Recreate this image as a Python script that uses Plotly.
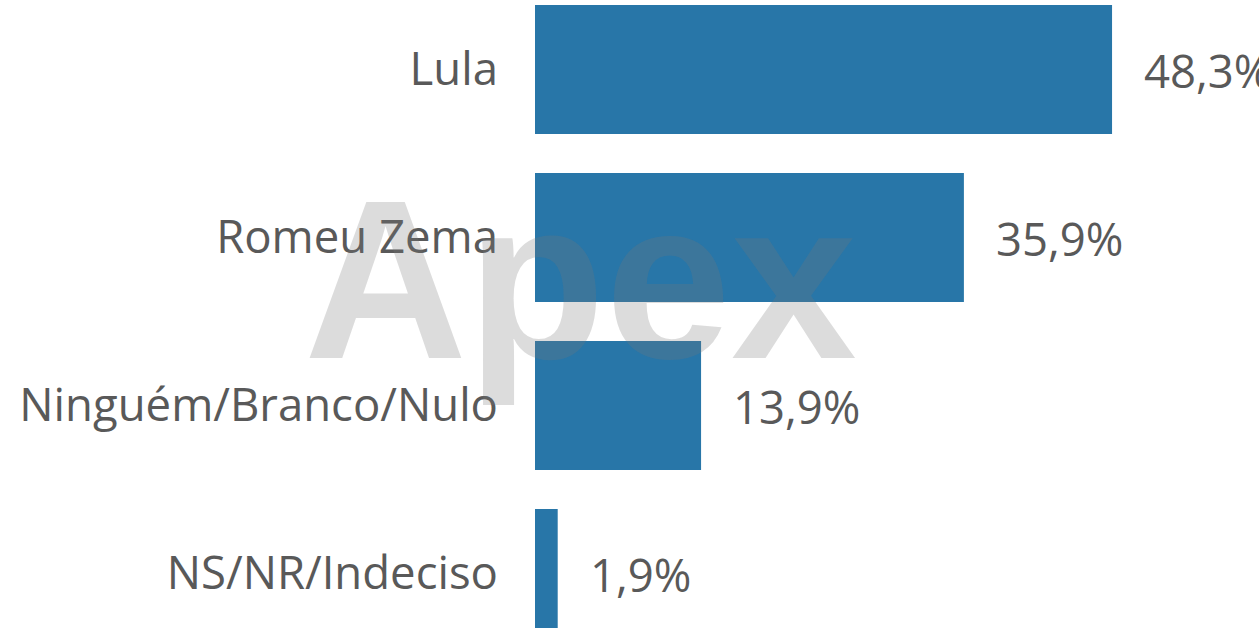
import plotly.graph_objects as go

categories = ["Lula", "Romeu Zema", "Ninguém/Branco/Nulo", "NS/NR/Indeciso"]
values = [48.3, 35.9, 13.9, 1.9]
value_labels = ["48,3%", "35,9%", "13,9%", "1,9%"]

BAR_COLOR = "#2876A8"
TEXT_COLOR = "#595959"
FONT = "Open Sans"

fig = go.Figure()
fig.add_trace(go.Bar(
    x=values,
    y=categories,
    orientation="h",
    marker=dict(color=BAR_COLOR, line=dict(width=0)),
    width=0.768,
    hoverinfo="skip",
))

annotations = []
for cat, v, lab in zip(categories, values, value_labels):
    annotations.append(dict(
        x=v, y=cat, xref="x", yref="y", text=lab, showarrow=False,
        xanchor="left", yanchor="middle", xshift=30,
        font=dict(family=FONT, size=45.5, color=TEXT_COLOR),
    ))

annotations.append(dict(
    x=0.0622, y=0.5557, xref="paper", yref="paper", text="<b>Apex</b>",
    showarrow=False, xanchor="center", yanchor="middle",
    font=dict(family="Liberation Sans", size=226, color="rgba(120,120,120,0.26)"),
))

fig.update_layout(
    width=1259, height=628,
    margin=dict(l=535, r=0, t=0, b=0, pad=0),
    paper_bgcolor="white", plot_bgcolor="white",
    showlegend=False,
    hovermode=False,
    annotations=annotations,
    xaxis=dict(range=[0, 60.6], visible=False, fixedrange=True),
    yaxis=dict(
        range=[3.3244, -0.4137], autorange=False, fixedrange=True,
        showgrid=False, zeroline=False, showline=False, ticks="",
        ticklabelstandoff=36,
        tickfont=dict(family=FONT, size=45.5, color=TEXT_COLOR),
    ),
)

fig.write_html(
    "out.html",
    config={"displayModeBar": False},
    post_script="document.body.style.margin='0';",
)
